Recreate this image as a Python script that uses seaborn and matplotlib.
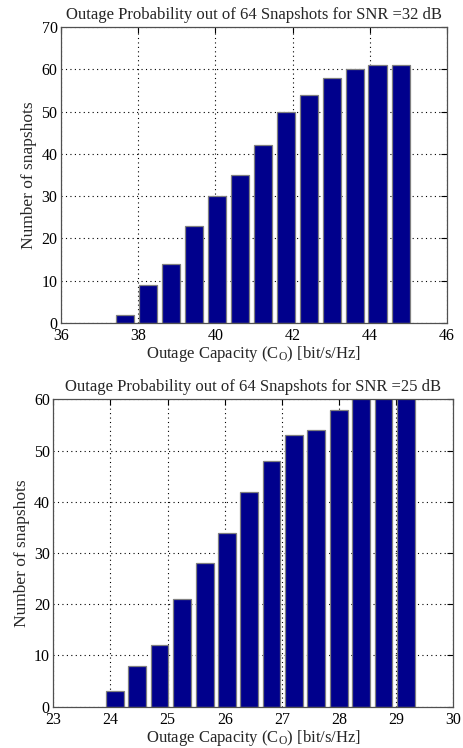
import matplotlib
matplotlib.use("Agg")
import matplotlib.pyplot as plt
import seaborn as sns
import numpy as np

sns.set_style("white")
plt.rcParams['font.family'] = ['Liberation Serif', 'DejaVu Serif']
plt.rcParams['mathtext.fontset'] = 'custom'
plt.rcParams['mathtext.rm'] = 'Liberation Serif'
plt.rcParams['mathtext.it'] = 'Liberation Serif:italic'

# Top chart: SNR = 32 dB
cap32 = [37.66, 38.25, 38.85, 39.44, 40.04, 40.63, 41.23, 41.82, 42.42, 43.01, 43.61, 44.20, 44.80]
cnt32 = [2, 9, 14, 23, 30, 35, 42, 50, 54, 58, 60, 61, 61]
xticks32 = [36, 38, 40, 42, 44, 46]
yticks32 = [0, 10, 20, 30, 40, 50, 60, 70]

# Bottom chart: SNR = 25 dB
cap25 = [24.08, 24.47, 24.86, 25.25, 25.65, 26.04, 26.43, 26.82, 27.21, 27.60, 28.00, 28.39, 28.78, 29.17]
cnt25 = [3, 8, 12, 21, 28, 34, 42, 48, 53, 54, 58, 61, 62, 62]
xticks25 = [23, 24, 25, 26, 27, 28, 29, 30]
yticks25 = [0, 10, 20, 30, 40, 50, 60]

titles = ["Outage Probability out of 64 Snapshots for SNR =32 dB",
          "Outage Probability out of 64 Snapshots for SNR =25 dB"]
xlabel = r"Outage Capacity (C$_\mathrm{O}$) [bit/s/Hz]"
ylabel = "Number of snapshots"

BAR = "#00008C"
EDGE = "#808080"

fig = plt.figure(figsize=(4.63, 7.48), dpi=100)
ax1 = fig.add_axes([0.1318, 0.5682, 0.8337, 0.3957])
ax2 = fig.add_axes([0.1151, 0.0552, 0.8639, 0.4110])

specs = [
    (ax1, cap32, cnt32, xticks32, yticks32, titles[0]),
    (ax2, cap25, cnt25, xticks25, yticks25, titles[1]),
]
for ax, xs, ys, xt, yt, title in specs:
    sns.barplot(x=xs, y=ys, native_scale=True, width=0.8, color=BAR,
                edgecolor=EDGE, linewidth=0.9, saturation=1, errorbar=None, ax=ax)
    ax.set_xlim(xt[0], xt[-1])
    ax.set_ylim(yt[0], yt[-1])
    ax.set_xticks(xt)
    ax.set_yticks(yt)
    ax.set_xticklabels([str(v) for v in xt])
    ax.set_yticklabels([str(v) for v in yt])
    ax.grid(True, linestyle=(0, (1, 3)), color="black", linewidth=0.8)
    ax.set_axisbelow(True)
    ax.tick_params(direction="in", length=4, labelsize=11.5, colors="black",
                   top=True, right=True)
    ax.tick_params(axis="x", pad=3.5)
    ax.tick_params(axis="y", pad=2.5)
    for s in ax.spines.values():
        s.set_color("#505050")
        s.set_linewidth(0.9)
    ax.set_title(title, fontsize=12, pad=6)
    ax.set_xlabel(xlabel, fontsize=12, labelpad=0)
    ax.set_ylabel(ylabel, fontsize=12.5, labelpad=3)

fig.savefig("out.png", dpi=100, facecolor="white")
